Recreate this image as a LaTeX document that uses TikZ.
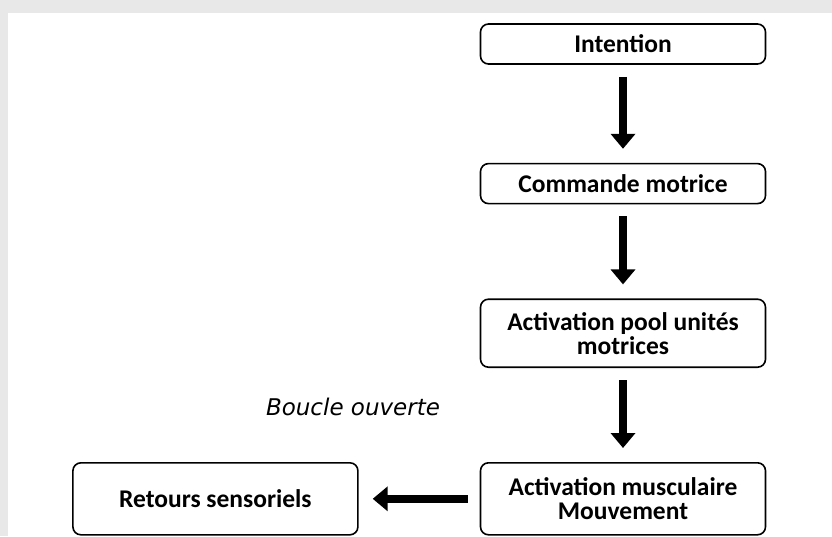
\documentclass[tikz,border=0pt]{standalone}
\usepackage{fontspec}
\setmainfont{Carlito}
\newfontfamily\labelfont{DejaVu Sans}
\usetikzlibrary{positioning,arrows.meta}

\begin{document}
\begin{tikzpicture}[x=1pt,y=-1pt,>=latex]

\tikzstyle{state} = [draw, rounded corners=8pt, fill=white, rectangle, line width=1.6pt, minimum width=285pt, minimum height=40pt, align=center, font={\fontsize{25.5}{24}\selectfont\bfseries}]
\tikzstyle{bigArrow} = [black, line width=8pt, -{Triangle[width=24pt,length=15pt]}, shorten <=12pt, shorten >=14pt]
\tikzstyle{sideLabel} = [font={\labelfont\fontsize{23}{26}\selectfont\itshape}]

% frame with shadow
\fill[black!9] (0,0) rectangle (832,536);
\fill[white] (8,13) rectangle (832,536);
\useasboundingbox (0,0) rectangle (832,536);

\node[state, name=intention] at (623,44) {Intention};
\node[state, name=commande, below=98pt of intention] {Commande motrice};
\node[state, name=pool, below=94pt of commande, minimum height=68pt] {Activation pool unités\\motrices};
\node[state, name=musc, below=94pt of pool, minimum height=72pt] {Activation musculaire\\Mouvement};
\node[state, name=retours, left=121pt of musc, minimum height=72pt] {Retours sensoriels};
\node[sideLabel, name=boucle] at (353,407) {Boucle ouverte};

\draw (intention) edge[bigArrow] (commande);
\draw (commande) edge[bigArrow] (pool);
\draw (pool) edge[bigArrow] (musc);
\draw (musc) edge[bigArrow] (retours);
\end{tikzpicture}
\end{document}
